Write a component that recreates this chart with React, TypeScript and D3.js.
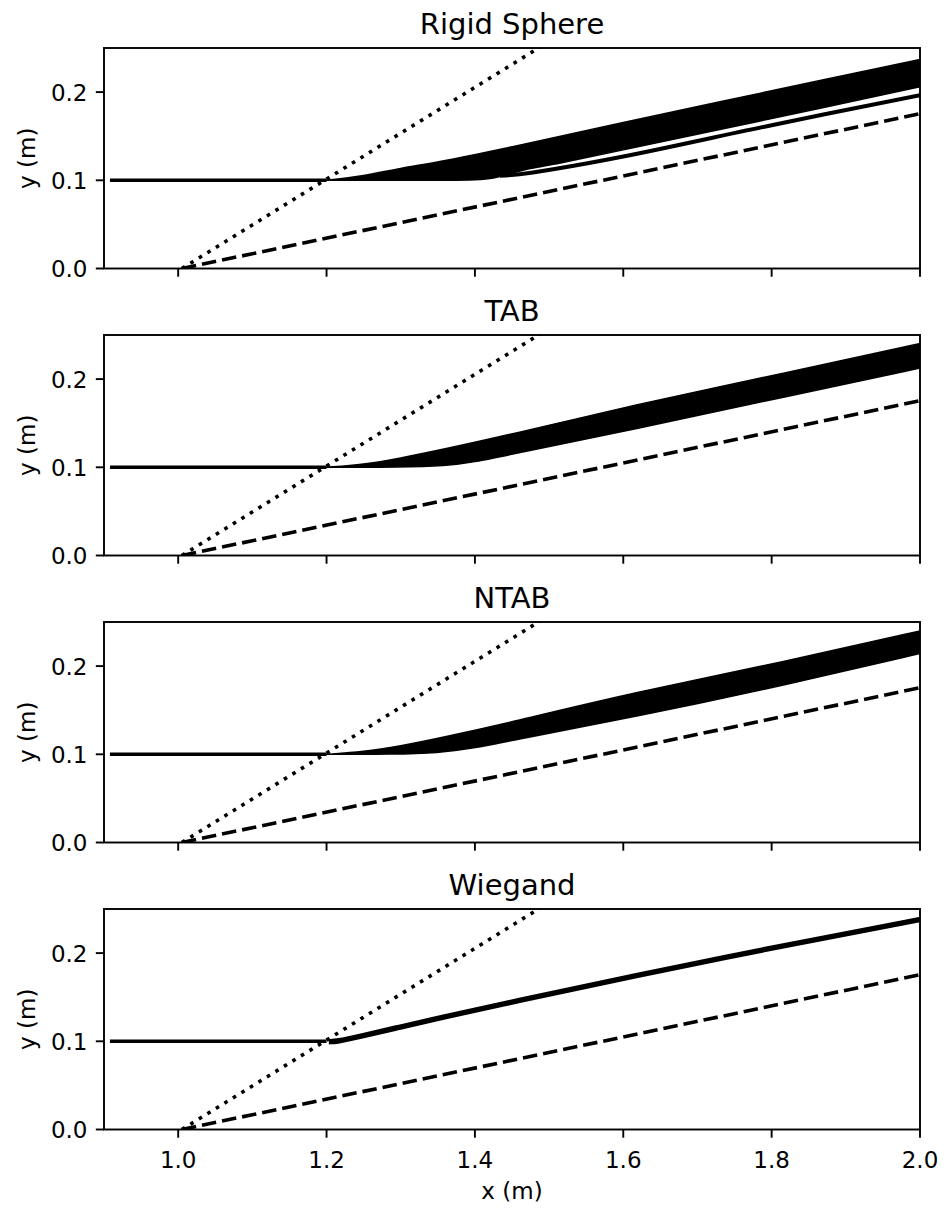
import React from "react";
import * as d3 from "d3";

type P = [number, number];

const panelTitles = ["Rigid Sphere", "TAB", "NTAB", "Wiegand"];
const xTicks = [1.0, 1.2, 1.4, 1.6, 1.8, 2.0];
const yTicks = [0.0, 0.1, 0.2];

// injector line (common)
const nozzleLine: P[] = [[0.908, 0.1], [1.2, 0.1]];
// reference lines (common)
const dottedLine: P[] = [[1.005, 0.0], [2.0, 0.5174]];
const dashedLine: P[] = [[1.005, 0.0], [2.0, 0.1755]];

// Rigid sphere spray envelope
const rigidUpper: P[] = [[1.2, 0.1], [1.25, 0.1055], [1.3, 0.1135], [1.36, 0.1225], [1.46, 0.1398], [1.6, 0.1655], [1.8, 0.2015], [2.0, 0.237], [2.05, 0.246]];
const rigidLower: P[] = [[1.2, 0.1], [1.3, 0.1], [1.4, 0.1005], [1.425, 0.1025], [1.445, 0.107], [1.47, 0.1125], [1.52, 0.1205], [1.6, 0.1345], [1.8, 0.17], [2.0, 0.206], [2.05, 0.215]];
const rigidStray: P[] = [[1.4337, 0.1052], [1.46, 0.1068], [1.5055, 0.1125], [1.6, 0.127], [1.8, 0.1625], [2.0, 0.1966], [2.05, 0.205]];

// TAB spray envelope
const tabUpper: P[] = [[1.2, 0.1], [1.25, 0.103], [1.3, 0.1105], [1.35, 0.119], [1.45, 0.1375], [1.611, 0.17], [1.821, 0.2075], [2.0, 0.2405], [2.05, 0.2495]];
const tabLower: P[] = [[1.2, 0.1], [1.3, 0.1], [1.36, 0.1015], [1.4, 0.106], [1.4535, 0.1155], [1.611, 0.1425], [1.821, 0.1805], [2.0, 0.2125], [2.05, 0.2215]];

// NTAB spray envelope
const ntabUpper: P[] = [[1.2, 0.1], [1.25, 0.1028], [1.3, 0.1095], [1.35, 0.118], [1.45, 0.1365], [1.611, 0.1695], [1.821, 0.2055], [2.0, 0.24], [2.05, 0.249]];
const ntabLower: P[] = [[1.2, 0.1], [1.29, 0.1], [1.35, 0.1015], [1.4, 0.107], [1.4535, 0.1165], [1.611, 0.1415], [1.821, 0.179], [2.0, 0.2145], [2.05, 0.2235]];

// Wiegand trajectory (narrow)
const wiegandCenter: P[] = [[1.203, 0.0995], [1.215, 0.1], [1.24, 0.1045], [1.296, 0.1155], [1.35, 0.1262], [1.45, 0.1445], [1.611, 0.1735], [1.821, 0.2095], [2.0, 0.238], [2.05, 0.246]];

const LEFT = 104;
const RIGHT = 920;
const TOPS = [48, 335, 622, 909];
const H = 220.5;
const FONT = "DejaVu Sans, Liberation Sans, sans-serif";
const LW = 3.6;

const xScale = d3.scaleLinear().domain([0.9, 2.0]).range([LEFT, RIGHT]);

function Panel({ idx }: { idx: number }) {
  const top = TOPS[idx];
  const bottom = top + H;
  const y = d3.scaleLinear().domain([0, 0.25]).range([bottom, top]);
  const line = d3.line<P>().x((d) => xScale(d[0])).y((d) => y(d[1]));
  const smooth = d3.line<P>().x((d) => xScale(d[0])).y((d) => y(d[1])).curve(d3.curveBasis);
  const through = d3.line<P>().x((d) => xScale(d[0])).y((d) => y(d[1])).curve(d3.curveCatmullRom.alpha(0.5));
  const areaPath = (up: P[], lo: P[], gen = smooth) => {
    const a = gen(up) || "";
    const b = (gen([...lo].reverse()) || "").replace(/^M/, "L");
    return a + b + "Z";
  };
  const clipId = `clip${idx}`;
  let spray: React.ReactNode = null;
  if (idx === 0) {
    spray = (
      <g>
        <path d={areaPath(rigidUpper, rigidLower, through)} fill="#000" stroke="#000" strokeWidth={1.5} strokeLinejoin="round" />
        <path d={through(rigidStray) || ""} fill="none" stroke="#000" strokeWidth={4} />
      </g>
    );
  } else if (idx === 1) {
    spray = <path d={areaPath(tabUpper, tabLower)} fill="#000" stroke="#000" strokeWidth={1.5} strokeLinejoin="round" />;
  } else if (idx === 2) {
    spray = <path d={areaPath(ntabUpper, ntabLower)} fill="#000" stroke="#000" strokeWidth={1.5} strokeLinejoin="round" />;
  } else {
    spray = <path d={smooth(wiegandCenter) || ""} fill="none" stroke="#000" strokeWidth={5.4} />;
  }
  return (
    <g>
      <defs>
        <clipPath id={clipId}>
          <rect x={LEFT} y={top} width={RIGHT - LEFT} height={H} />
        </clipPath>
      </defs>
      <g clipPath={`url(#${clipId})`}>
        <path d={line(nozzleLine) || ""} stroke="#000" strokeWidth={LW} fill="none" />
        {spray}
        <path d={line(dottedLine) || ""} stroke="#000" strokeWidth={LW} fill="none" strokeDasharray="3.6,6.4" />
        <path d={line(dashedLine) || ""} stroke="#000" strokeWidth={LW} fill="none" strokeDasharray="14.5,6" />
      </g>
      <rect x={LEFT} y={top} width={RIGHT - LEFT} height={H} fill="none" stroke="#000" strokeWidth={1.9} />
      {xTicks.map((t) => (
        <line key={"xt" + t} x1={xScale(t)} x2={xScale(t)} y1={bottom} y2={bottom + 8.2} stroke="#000" strokeWidth={1.9} />
      ))}
      {idx === 3 &&
        xTicks.map((t) => (
          <text key={"xl" + t} x={xScale(t)} y={bottom + 38.5} textAnchor="middle" fontSize={23} fontFamily={FONT} fill="#000">
            {t.toFixed(1)}
          </text>
        ))}
      {yTicks.map((t) => (
        <g key={"yt" + t}>
          <line x1={LEFT - 8.2} x2={LEFT} y1={y(t)} y2={y(t)} stroke="#000" strokeWidth={1.9} />
          <text x={LEFT - 16.5} y={y(t) + 8.4} textAnchor="end" fontSize={23} fontFamily={FONT} fill="#000">
            {t.toFixed(1)}
          </text>
        </g>
      ))}
      <text
        transform={`translate(${35},${(top + bottom) / 2}) rotate(-90)`}
        textAnchor="middle"
        fontSize={23}
        fontFamily={FONT}
        fill="#000"
      >
        y (m)
      </text>
      <text x={(LEFT + RIGHT) / 2} y={top - 14} textAnchor="middle" fontSize={29} fontFamily={FONT} fill="#000">
        {panelTitles[idx]}
      </text>
    </g>
  );
}

export default function App() {
  return (
    <svg width={945} height={1209} style={{ position: "absolute", left: 0, top: 0, background: "#fff" }}>
      <rect x={0} y={0} width={945} height={1209} fill="#fff" />
      {[0, 1, 2, 3].map((i) => (
        <Panel key={i} idx={i} />
      ))}
      <text x={(LEFT + RIGHT) / 2} y={1199} textAnchor="middle" fontSize={23} fontFamily={FONT} fill="#000">
        x (m)
      </text>
    </svg>
  );
}
